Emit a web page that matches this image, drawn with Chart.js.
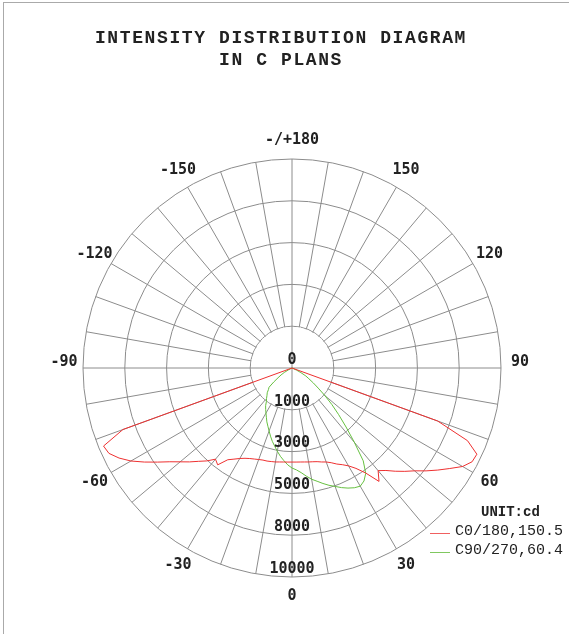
<!DOCTYPE html>
<html>
<head>
<meta charset="utf-8">
<script src="https://cdn.jsdelivr.net/npm/chart.js@4/dist/chart.umd.min.js"></script>
<style>
  html, body { margin: 0; padding: 0; background: #fff; }
  #wrap { position: relative; width: 569px; height: 634px; overflow: hidden; }
  #c { position: absolute; left: 0; top: 0; }
  #frame { position: absolute; left: 3px; top: 2px; width: 570px; height: 640px; border-top: 1px solid #aaa; border-left: 1px solid #aaa; }
  .title { position: absolute; left: 0; width: 562px; text-align: center; font: bold 18px "Courier New", "Liberation Mono", monospace; letter-spacing: 1.6px; color: #222; }
  .leg { position: absolute; font: 15px "Courier New", "Liberation Mono", monospace; color: #222; white-space: nowrap; }
  .swatch { position: absolute; width: 20px; height: 1px; }
</style>
</head>
<body>
<div id="wrap">
  <canvas id="c" width="569" height="634"></canvas>
  <div id="frame"></div>
  <div class="title" style="top:28px">INTENSITY DISTRIBUTION DIAGRAM</div>
  <div class="title" style="top:50px">IN C PLANS</div>
  <div class="leg" style="left:481px; top:504px; font-weight:bold; font-size:14px">UNIT:cd</div>
  <div class="swatch" style="left:430px; top:533px; background:#f06060"></div>
  <div class="leg" style="left:455px; top:523px">C0/180,150.5</div>
  <div class="swatch" style="left:430px; top:552px; background:#80c860"></div>
  <div class="leg" style="left:455px; top:542px">C90/270,60.4</div>
</div>
<script>
// gamma angles -90..90 in 2.5 deg steps (lower half); upper half is zero
const lowerStart = -90;
const lowerStep = 2.5;

// C0/180 plane, cd
const c0c180 = [0, 0, 0, 0, 0, 0, 0, 0,
  8610, 9760, 9665, 9330, 8900, 8375, 7850, 7370, 6985, 6650, 6315, 6030, 5695, 5840, 5360, 5170,
  5000, 4870, 4780, 4715, 4660, 4620, 4610, 4585, 4565, 4535, 4515, 4505,
  4500,
  4505, 4515, 4535, 4565, 4595, 4640, 4715, 4785, 4905, 5070, 5215, 5405, 5695, 6125, 6840, 6410,
  6650, 6985, 7320, 7655, 8085, 8515, 8950, 9425, 9715, 9760, 9090, 7415,
  0, 0, 0, 0, 0, 0, 0, 0];

// C90/270 plane, cd
const c90c270 = [0, 0, 0, 0, 0, 0, 0, 0, 0, 0, 0,
  190, 430, 620, 815, 1100, 1435, 1530, 1675, 1770, 1895, 2010, 2200, 2345, 2490, 2655, 2845,
  3015, 3205, 3420, 3635, 3830, 4045, 4260, 4450, 4640,
  4785,
  4880, 5025, 5215, 5405, 5550, 5720, 5885, 6030, 6195, 6340, 6460, 6530, 6410, 6150, 5600, 4640,
  3830, 3160, 2585, 2055, 1580, 1245, 955, 765, 480, 240,
  0, 0, 0, 0, 0, 0, 0, 0, 0, 0];

const tickValues = [0, 2000, 4000, 6000, 8000, 10000];
const tickLabels = ['0', '1000', '3000', '5000', '8000', '10000'];

// categories clockwise from top: 180 ... 0 ... -177.5
const gammas = [];
for (let i = 0; i < 144; i++) gammas.push(180 - i * 2.5);

function toSeries(vals) {
  return gammas.map(g => {
    if (Math.abs(g) > 90) return 0;
    return vals[Math.round((g - lowerStart) / lowerStep)];
  });
}

const gridColor = '#8c8c8c';

const polarExtras = {
  id: 'polarExtras',
  beforeDatasetsDraw(chart) {
    const s = chart.scales.r;
    const ctx = chart.ctx;
    const r1 = s.getDistanceFromCenterForValue(tickValues[1]);
    ctx.save();
    ctx.fillStyle = '#fff';
    ctx.beginPath();
    ctx.arc(s.xCenter, s.yCenter, r1 - 0.6, 0, Math.PI * 2);
    ctx.fill();
    ctx.strokeStyle = gridColor;
    ctx.lineWidth = 1;
    ctx.beginPath();
    ctx.moveTo(s.xCenter - r1, s.yCenter);
    ctx.lineTo(s.xCenter + r1, s.yCenter);
    ctx.moveTo(s.xCenter, s.yCenter - r1);
    ctx.lineTo(s.xCenter, s.yCenter + r1);
    ctx.stroke();
    ctx.restore();
  },
  afterDraw(chart) {
    const s = chart.scales.r;
    const ctx = chart.ctx;
    ctx.save();
    ctx.fillStyle = '#222';
    ctx.textAlign = 'center';
    ctx.textBaseline = 'middle';
    ctx.font = 'bold 15px "DejaVu Sans Mono", monospace';
    gammas.forEach((g, i) => {
      if (g % 30 !== 0) return;
      const p = s.getPointPosition(i, s.drawingArea + 19);
      ctx.fillText(g === 180 ? '-/+180' : String(g), p.x, p.y - (Math.abs(g) === 90 ? 6 : 0));
    });
    tickValues.forEach((v, i) => {
      const d = s.getDistanceFromCenterForValue(v);
      ctx.fillText(tickLabels[i], s.xCenter, s.yCenter + d - 8);
    });
    ctx.restore();
  }
};

new Chart(document.getElementById('c'), {
  type: 'radar',
  data: {
    labels: gammas,
    datasets: [
      { label: 'C0/180,150.5', data: toSeries(c0c180), borderColor: '#ee3030', borderWidth: 1, fill: false, pointRadius: 0, tension: 0 },
      { label: 'C90/270,60.4', data: toSeries(c90c270), borderColor: '#66c040', borderWidth: 1, fill: false, pointRadius: 0, tension: 0 }
    ]
  },
  options: {
    responsive: false,
    animation: false,
    layout: { padding: { left: 83, top: 159, right: 68, bottom: 57 } },
    plugins: { legend: { display: false }, tooltip: { enabled: false } },
    scales: {
      r: {
        min: 0,
        max: 10000,
        ticks: { stepSize: 2000, display: false },
        grid: { circular: true, color: gridColor, lineWidth: 1 },
        angleLines: {
          color: c => (c.index % 4 === 0 ? gridColor : 'rgba(0,0,0,0)'),
          lineWidth: c => (c.index % 4 === 0 ? 1 : 0)
        },
        pointLabels: { display: false }
      }
    }
  },
  plugins: [polarExtras]
});
</script>
</body>
</html>
